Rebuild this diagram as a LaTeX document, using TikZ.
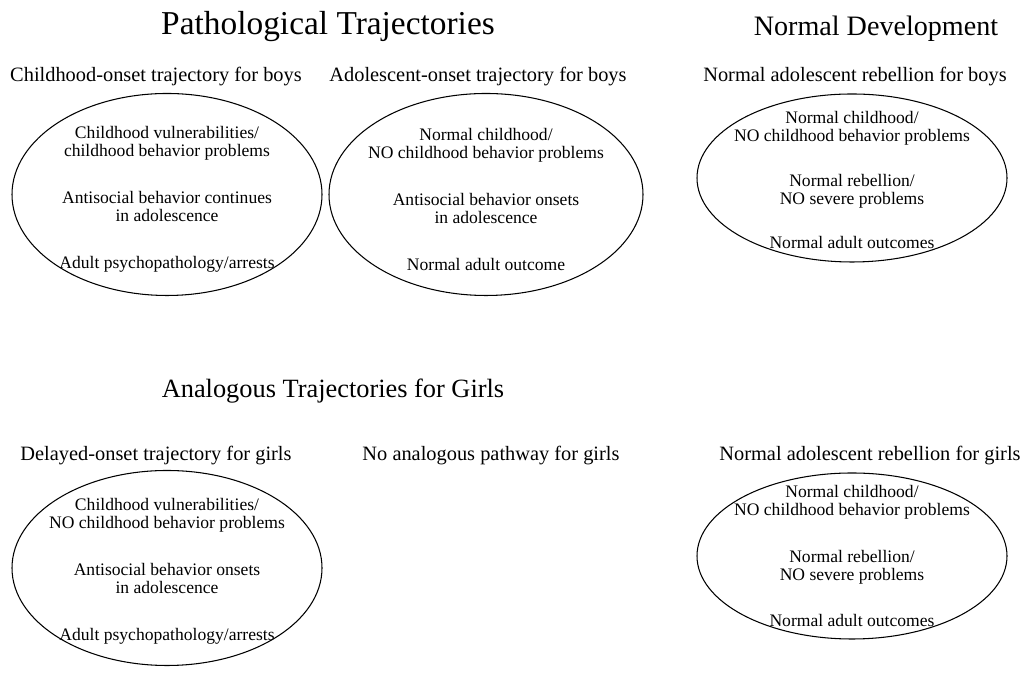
\documentclass[tikz,border=0pt]{standalone}
\usepackage{fontspec}
\setmainfont{Liberation Serif}
\usetikzlibrary{shapes.geometric}

\begin{document}
\begin{tikzpicture}[
        ttl/.style  = {anchor=base, inner sep=0pt},
        sub/.style  = {anchor=base, inner sep=0pt, font=\fontsize{11.6}{14}\selectfont},
        oval/.style = {draw, ellipse, line width=0.6pt, inner sep=0pt, minimum width=6.2cm, minimum height=4.04cm},
        txt/.style  = {align=center, inner sep=0pt, font=\fontsize{10}{10.25}\selectfont}
    ]
        \useasboundingbox (0,0) rectangle (20.52,13.46);

        % headings
        \node[ttl, font=\fontsize{19}{22}\selectfont] (patho) at (6.56,12.76) {Pathological Trajectories};
        \node[ttl, font=\fontsize{16}{19}\selectfont] (normdev) at (17.52,12.74) {Normal Development};
        \node[ttl, font=\fontsize{15}{18}\selectfont] (girls) at (6.66,5.50) {Analogous Trajectories for Girls};

        % boys
        \node[sub] (s1) at (3.12,11.82) {Childhood-onset trajectory for boys};
        \node[sub] (s2) at (9.56,11.82) {Adolescent-onset trajectory for boys};
        \node[sub] (s3) at (17.10,11.82) {Normal adolescent rebellion for boys};

        \node[oval] (e1) at (3.34,9.57) {};
        \node[oval, minimum width=6.28cm] (e2) at (9.72,9.57) {};
        \node[oval, minimum height=3.36cm] (e3) at (17.04,9.90) {};

        \node[txt, yshift=-0.1cm] (t1) at (e1) {Childhood vulnerabilities/\\childhood behavior problems\\[16.5pt]Antisocial behavior continues\\in adolescence\\[16.5pt]Adult psychopathology/arrests};
        \node[txt, yshift=-0.1cm] (t2) at (e2) {Normal childhood/\\NO childhood behavior problems\\[16.5pt]Antisocial behavior onsets\\in adolescence\\[16.5pt]Normal adult outcome};
        \node[txt, yshift=-0.04cm] (t3) at (e3) {Normal childhood/\\NO childhood behavior problems\\[14.8pt]Normal rebellion/\\NO severe problems\\[14.8pt]Normal adult outcomes};

        % girls
        \node[sub] (s4) at (3.12,4.24) {Delayed-onset trajectory for girls};
        \node[sub] (s5) at (9.82,4.24) {No analogous pathway for girls};
        \node[sub] (s6) at (17.40,4.24) {Normal adolescent rebellion for girls};

        \node[oval, minimum height=3.9cm] (e4) at (3.34,2.10) {};
        \node[oval, minimum height=3.32cm] (e5) at (17.04,2.34) {};

        \node[txt, yshift=-0.06cm] (t4) at (e4) {Childhood vulnerabilities/\\NO childhood behavior problems\\[16.5pt]Antisocial behavior onsets\\in adolescence\\[16.5pt]Adult psychopathology/arrests};
        \node[txt] (t5) at (e5) {Normal childhood/\\NO childhood behavior problems\\[16.2pt]Normal rebellion/\\NO severe problems\\[16.2pt]Normal adult outcomes};
\end{tikzpicture}
\end{document}
